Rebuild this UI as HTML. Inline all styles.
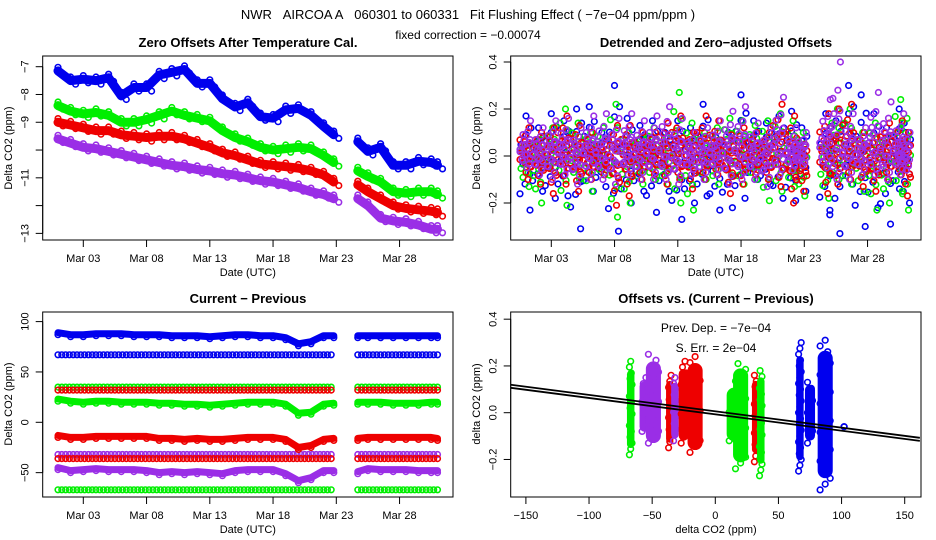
<!DOCTYPE html>
<html><head><meta charset="utf-8"><style>
html,body{margin:0;padding:0;background:#fff;}
svg{display:block;font-family:"Liberation Sans",sans-serif;}
.t{font-size:13px;font-weight:bold;text-anchor:middle;}
.tk{font-size:11px;text-anchor:middle;}
.al{font-size:11px;text-anchor:middle;}
</style></head><body>
<svg id="c" width="936" height="540" viewBox="0 0 936 540" xmlns="http://www.w3.org/2000/svg">
<text x="468" y="19" style="font-size:13px;text-anchor:middle">NWR&#160;&#160;&#160;AIRCOA A&#160;&#160;&#160;060301 to 060331&#160;&#160;&#160;Fit Flushing Effect ( −7e−04 ppm/ppm )</text>
<text x="468" y="39" style="font-size:12px;text-anchor:middle">fixed correction = −0.00074</text>
<text class="t" x="248" y="47">Zero Offsets After Temperature Cal.</text>
<text class="t" x="716" y="47">Detrended and Zero−adjusted Offsets</text>
<text class="t" x="248" y="303">Current − Previous</text>
<text class="t" x="716" y="303">Offsets vs. (Current − Previous)</text>
<g id="g1"></g>
<g id="g2"></g>
<g id="g3"></g>
<g id="g4"></g>
<g id="ax"></g>
</svg>
<script>
// ---- shared time axis (days of March) ----
const T=[1,2,3,4,5,6,7,8,9,10,11,12,13,14,15,16,17,18,19,20,21,22,22.8,24.7,25.5,26.5,27.5,28.5,29.5,30.5,31];
const dateTicks=[3,8,13,18,23,28];
const dateLabels=["Mar 03","Mar 08","Mar 13","Mar 18","Mar 23","Mar 28"];
// ---- panel 1: zero offsets ----
const p1Blue=[-7.15,-7.5,-7.45,-7.5,-7.4,-8.05,-7.75,-7.75,-7.3,-7.2,-7.1,-7.6,-7.6,-8.15,-8.45,-8.3,-8.8,-8.85,-8.55,-8.5,-8.75,-9.15,-9.45,-9.7,-10.05,-9.9,-10.55,-10.55,-10.4,-10.45,-10.55];
const p1Green=[-8.4,-8.6,-8.7,-8.65,-8.75,-9.0,-9.0,-8.9,-8.75,-8.6,-8.75,-8.85,-8.95,-9.3,-9.55,-9.7,-9.9,-10.0,-9.95,-9.9,-9.95,-10.2,-10.45,-10.75,-10.95,-11.15,-11.5,-11.55,-11.5,-11.5,-11.6];
const p1Red=[-9.0,-9.1,-9.2,-9.3,-9.3,-9.45,-9.5,-9.55,-9.5,-9.5,-9.6,-9.75,-9.9,-10.1,-10.2,-10.35,-10.5,-10.55,-10.6,-10.65,-10.75,-10.9,-11.15,-11.25,-11.5,-11.75,-12.0,-12.1,-12.15,-12.2,-12.25];
const p1Purple=[-9.6,-9.75,-9.9,-9.95,-10.05,-10.15,-10.25,-10.35,-10.45,-10.55,-10.6,-10.7,-10.75,-10.85,-10.9,-11.0,-11.1,-11.15,-11.25,-11.35,-11.5,-11.6,-11.75,-11.75,-12.0,-12.45,-12.55,-12.6,-12.7,-12.85,-12.85];
const p1Ticks=[-7,-8,-9,-10,-11,-12,-13];
const p1Labels=["−7","−8","−9","","−11","","−13"];
// ---- panel 2: detrended offsets (per-day high / low) ----
const p2BlueHi=[0.17,0.12,0.18,0.15,0.2,0.21,0.1,0.3,0.16,0.13,0.15,0.1,0.15,0.12,0.22,0.08,0.1,0.26,0.15,0.14,0.17,0.19,0.12,0.18,0.15,0.3,0.26,0.18,0.12,0.2,0.1];
const p2BlueLo=[-0.23,-0.15,-0.18,-0.17,-0.31,-0.15,-0.13,-0.32,-0.2,-0.15,-0.24,-0.15,-0.27,-0.2,-0.17,-0.23,-0.22,-0.18,-0.1,-0.12,-0.18,-0.19,-0.15,-0.25,-0.33,-0.12,-0.3,-0.22,-0.29,-0.15,-0.2];
const p2GreenHi=[0.05,0.07,0.12,0.2,0.14,0.1,0.12,0.22,0.1,0.08,0.12,0.08,0.27,0.14,0.1,0.12,0.16,0.15,0.13,0.15,0.18,0.15,0.1,0.05,0.2,0.2,0.1,0.14,0.08,0.24,0.16];
const p2GreenLo=[-0.13,-0.2,-0.07,-0.21,-0.1,-0.15,-0.08,-0.26,-0.2,-0.12,-0.1,-0.12,-0.2,-0.23,-0.1,-0.12,-0.08,-0.12,-0.1,-0.19,-0.15,-0.13,-0.17,-0.18,-0.1,-0.12,-0.15,-0.23,-0.2,-0.15,-0.23];
const p2RedHi=[0.12,0.1,0.12,0.17,0.13,0.1,0.05,0.13,0.13,0.1,0.1,0.14,0.17,0.1,0.17,0.15,0.09,0.12,0.1,0.1,0.22,0.17,0.05,0.18,0.2,0.22,0.1,0.08,0.14,0.15,0.1];
const p2RedLo=[-0.1,-0.12,-0.16,-0.12,-0.15,-0.1,-0.08,-0.21,-0.17,-0.1,-0.08,-0.12,-0.1,-0.14,-0.1,-0.08,-0.16,-0.12,-0.08,-0.1,-0.13,-0.2,-0.15,-0.16,-0.12,-0.1,-0.13,-0.15,-0.1,-0.08,-0.17];
const p2PurpleHi=[0.15,0.12,0.15,0.16,0.12,0.17,0.18,0.16,0.18,0.15,0.17,0.21,0.16,0.1,0.12,0.15,0.19,0.21,0.14,0.12,0.25,0.12,0.1,0.24,0.4,0.18,0.12,0.27,0.23,0.18,0.1];
const p2PurpleLo=[-0.05,-0.08,-0.1,-0.08,-0.12,-0.1,-0.1,-0.12,-0.08,-0.1,-0.1,-0.1,-0.12,-0.08,-0.1,-0.08,-0.12,-0.1,-0.1,-0.13,-0.08,-0.06,-0.04,-0.05,-0.1,-0.1,-0.08,-0.08,-0.1,-0.08,-0.06];
const p2Ticks=[0.4,0.2,0.0,-0.2];
const p2Labels=["0.4","0.2","0.0","−0.2"];
// ---- panel 3: current - previous ----
const p3BlueMain=[89,87,87,88,88,88,87,87,87,86,86,86,85,86,87,87,86,86,84,78,80,86,86,86,86,86,86,86,86,86,86];
const p3GreenMain=[23,21,20,21,21,20,20,20,19,19,18,18,17,18,19,20,20,20,18,9,10,18,19,20,20,20,19,19,19,20,20];
const p3RedMain=[-13,-15,-15,-14,-14,-14,-14,-14,-16,-16,-17,-16,-17,-17,-16,-15,-15,-15,-17,-25,-23,-17,-16,-16,-15,-15,-15,-15,-15,-15,-16];
const p3PurpleMain=[-45,-48,-47,-46,-47,-47,-47,-48,-50,-49,-50,-49,-50,-51,-48,-47,-47,-47,-51,-58,-55,-48,-48,-49,-46,-47,-47,-47,-48,-48,-48];
const p3ConstLevels=[67,35,32,-32,-36,-67];
const p3ConstSeries=[0,1,2,3,2,1];
const p3Ticks=[100,50,0,-50];
const p3Labels=["100","50","0","−50"];
// ---- panel 4: offsets vs (current - previous) ----
const p4X=[-67,-56,-49,-36,-32,-25,-16,15,20,32,36,67,75,87,102];
const p4Lo=[-0.18,-0.08,-0.13,-0.15,-0.12,-0.13,-0.17,-0.12,-0.24,-0.21,-0.27,-0.25,-0.13,-0.33,-0.06];
const p4Hi=[0.22,0.15,0.25,0.16,0.15,0.22,0.24,0.1,0.21,0.16,0.18,0.3,0.13,0.31,-0.06];
const p4Spread=[1,2,4,1,1,2,4,4,4,1,1,1,2,4,0];
const p4Series=[1,3,3,2,3,2,2,1,1,2,1,0,0,0,0];
const p4Slope=-7e-4;
const p4Intercepts=[0.006,-0.007];
const p4XTicks=[-150,-100,-50,0,50,100,150];
const p4XLabels=["−150","−100","−50","0","50","100","150"];
const p4YTicks=[0.4,0.2,0.0,-0.2];
const p4YLabels=["0.4","0.2","0.0","−0.2"];

const NS="http://www.w3.org/2000/svg";
const COL=["#0000ee","#00ee00","#ee0000","#9a2ee6"];
const SNAME=["blue","green","red","purple"];
const L=42.7,R=453,LR=510.7,RR=921;
function xd(t){return 83.3+(t-3)*12.65;}
function xd2(t){return xd(t)+468;}
function y1(v){return 66.7+(-7-v)*27.78;}
function y2(v){return 156-v*235;}
function y3(v){return 422.3-v*1.007;}
function x4(v){return 715.3+v*1.2627;}
function y4(v){return 412.7-v*233.8;}

function mk(tag,parent){const e=document.createElementNS(NS,tag);parent.appendChild(e);return e;}
function circ(g,x,y,col,name){
  const c=mk('circle',g);
  c.setAttribute('cx',x.toFixed(1));c.setAttribute('cy',y.toFixed(1));c.setAttribute('r','2.8');
  c.setAttribute('fill','none');c.setAttribute('stroke',col);c.setAttribute('stroke-width','1.6');
  
  
}
function band(g,xs,ys,col,w,name){
  const p=mk('polyline',g);
  p.setAttribute('points',xs.map((x,i)=>x.toFixed(1)+','+ys[i].toFixed(1)).join(' '));
  p.setAttribute('fill','none');p.setAttribute('stroke',col);p.setAttribute('stroke-width',w);
  p.setAttribute('stroke-linejoin','round');p.setAttribute('stroke-linecap','round');
  
  
}
function segments(){const a=[],b=[];T.forEach((t,i)=>{(t<24?a:b).push(i);});return [a,b];}
const SEG=segments();

// Panel 1
const g1=document.getElementById('g1');
[p1Blue,p1Green,p1Red,p1Purple].forEach((arr,s)=>{
  SEG.forEach(idx=>{
    band(g1,idx.map(i=>xd(T[i])),idx.map(i=>y1(arr[i])),COL[s],9,'offset-band-'+SNAME[s]);
  });
  T.forEach((t,i)=>{
    circ(g1,xd(t),y1(arr[i]+0.13),COL[s],'offset-point-'+SNAME[s]);
    circ(g1,xd(t)+5,y1(arr[i]-0.13),COL[s],'offset-point-'+SNAME[s]);
  });
});
// Panel 2
const g2=document.getElementById('g2');
const p2Hi=[p2BlueHi,p2GreenHi,p2RedHi,p2PurpleHi],p2Lo=[p2BlueLo,p2GreenLo,p2RedLo,p2PurpleLo];
const fr=[0,0.15,0.3,0.45,0.6,0.75,0.9,1];
for(let s=0;s<4;s++){
  T.forEach((t,i)=>{
    const hi=p2Hi[s][i],lo=p2Lo[s][i];
    circ(g2,xd2(t)+s*1.5,y2(hi),COL[s],'detrended-point-'+SNAME[s]);
    circ(g2,xd2(t)+4-s,y2(lo),COL[s],'detrended-point-'+SNAME[s]);
    fr.forEach((f,k)=>{
      const v=(lo+(hi-lo)*f)*0.7;
      circ(g2,xd2(t)+((k*5+s*3)%12)-6,y2(v),COL[s],'detrended-point-'+SNAME[s]);
    });
    if(s>=2){
      fr.forEach((f,k)=>{
        const v=(lo+(hi-lo)*f)*0.45;
        circ(g2,xd2(t)+((k*7+s*5)%12)-6,y2(v),COL[s],'detrended-point-'+SNAME[s]);
      });
    }
  });
}
// Panel 3
const g3=document.getElementById('g3');
p3ConstLevels.forEach((lv,j)=>{
  const s=p3ConstSeries[j];
  SEG.forEach(idx=>{
    const t0=T[idx[0]],t1=T[idx[idx.length-1]];
    for(let t=t0;t<=t1+0.01;t+=0.3){circ(g3,xd(t),y3(lv),COL[s],'diff-constant-point-'+SNAME[s]);}
  });
});
[p3BlueMain,p3GreenMain,p3RedMain,p3PurpleMain].forEach((arr,s)=>{
  SEG.forEach(idx=>{
    band(g3,idx.map(i=>xd(T[i])),idx.map(i=>y3(arr[i])),COL[s],7,'diff-band-'+SNAME[s]);
  });
  T.forEach((t,i)=>{circ(g3,xd(t),y3(arr[i]-2),COL[s],'diff-point-'+SNAME[s]);});
});
// Panel 4
const g4=document.getElementById('g4');
p4X.forEach((x,j)=>{
  const s=p4Series[j],lo=p4Lo[j],hi=p4Hi[j],w=p4Spread[j];
  if(hi>lo){
    band(g4,[x4(x),x4(x)],[y4(lo*0.75),y4(hi*0.75)],COL[s],(2*w*1.2627+5).toFixed(1),'scatter-core-'+SNAME[s]);
  }
  const n=Math.max(1,Math.round((hi-lo)*40));
  for(let k=0;k<=n;k++){
    const v=n?lo+(hi-lo)*k/n:lo;
    const dx=w?((k*7)%5-2)/2*w:0;
    circ(g4,x4(x+dx),y4(v),COL[s],'scatter-point-'+SNAME[s]);
  }
});
p4Intercepts.forEach(b=>{
  const l=mk('line',g4);
  l.setAttribute('x1',x4(-162));l.setAttribute('y1',y4(b+p4Slope*-162));
  l.setAttribute('x2',x4(162));l.setAttribute('y2',y4(b+p4Slope*162));
  l.setAttribute('stroke','#000');l.setAttribute('stroke-width','1.8');
  
  
});

// Axes
const ax=document.getElementById('ax');
function rect(x1,y1,x2,y2,name){const r=mk('rect',ax);r.setAttribute('x',x1);r.setAttribute('y',y1);r.setAttribute('width',x2-x1);r.setAttribute('height',y2-y1);r.setAttribute('fill','none');r.setAttribute('stroke','#000');r.setAttribute('stroke-width','1');
  
  }
function line(x1,y1,x2,y2){const l=mk('line',ax);l.setAttribute('x1',x1);l.setAttribute('y1',y1);l.setAttribute('x2',x2);l.setAttribute('y2',y2);l.setAttribute('stroke','#000');
  
  }
function text(x,y,s,cls,rot,name){const t=mk('text',ax);t.setAttribute('x',x);t.setAttribute('y',y);t.setAttribute('class',cls);if(rot)t.setAttribute('transform','rotate(-90 '+x+' '+y+')');t.textContent=s;
  
  }
const boxes=[[L,56,R,240],[LR,56,RR,240],[L,312,R,497],[LR,312,RR,497]];
boxes.forEach((b,i)=>rect(b[0],b[1],b[2],b[3],'panel'+(i+1)+'-frame'));
[[0,240,262,276,xd],[1,240,262,276,xd2],[2,497,519,533,xd]].forEach(([p,yb,yl,ya,f])=>{
  const b=boxes[p];
  line(f(dateTicks[0]),yb,f(dateTicks[dateTicks.length-1]),yb);
  dateTicks.forEach((d,i)=>{line(f(d),yb,f(d),yb+7);text(f(d),yl,dateLabels[i],'tk',false,'x-tick-label');});
  text((b[0]+b[2])/2,ya,'Date (UTC)','al',false,'x-axis-title');
});
function yaxis(x0,ticks,labels,f,title,tx,cy){
  line(x0,f(ticks[0]),x0,f(ticks[ticks.length-1]));
  ticks.forEach((v,i)=>{line(x0-7,f(v),x0,f(v));if(labels[i])text(x0-14,f(v),labels[i],'tk',true,'y-tick-label');});
  text(tx,cy,title,'al',true,'y-axis-title');
}
yaxis(L,p1Ticks,p1Labels,y1,'Delta CO2 (ppm)',12,148);
yaxis(LR,p2Ticks,p2Labels,y2,'Delta CO2 (ppm)',480,148);
yaxis(L,p3Ticks,p3Labels,y3,'Delta CO2 (ppm)',12,404);
yaxis(LR,p4YTicks,p4YLabels,y4,'delta CO2 (ppm)',480,404);
line(x4(-150),497,x4(150),497);
p4XTicks.forEach((v,i)=>{line(x4(v),497,x4(v),504);text(x4(v),519,p4XLabels[i],'tk',false,'x-tick-label');});
text(716,533,'delta CO2 (ppm)','al',false,'x-axis-title');
text(716,332,'Prev. Dep. =  −7e−04','al',false,'slope-annotation');
text(716,352,'S. Err. =  2e−04','al',false,'stderr-annotation');
ax.querySelectorAll('text.al').forEach(t=>{if(t.textContent.indexOf('=')>0)t.style.fontSize='12px';});
</script>
</body></html>
